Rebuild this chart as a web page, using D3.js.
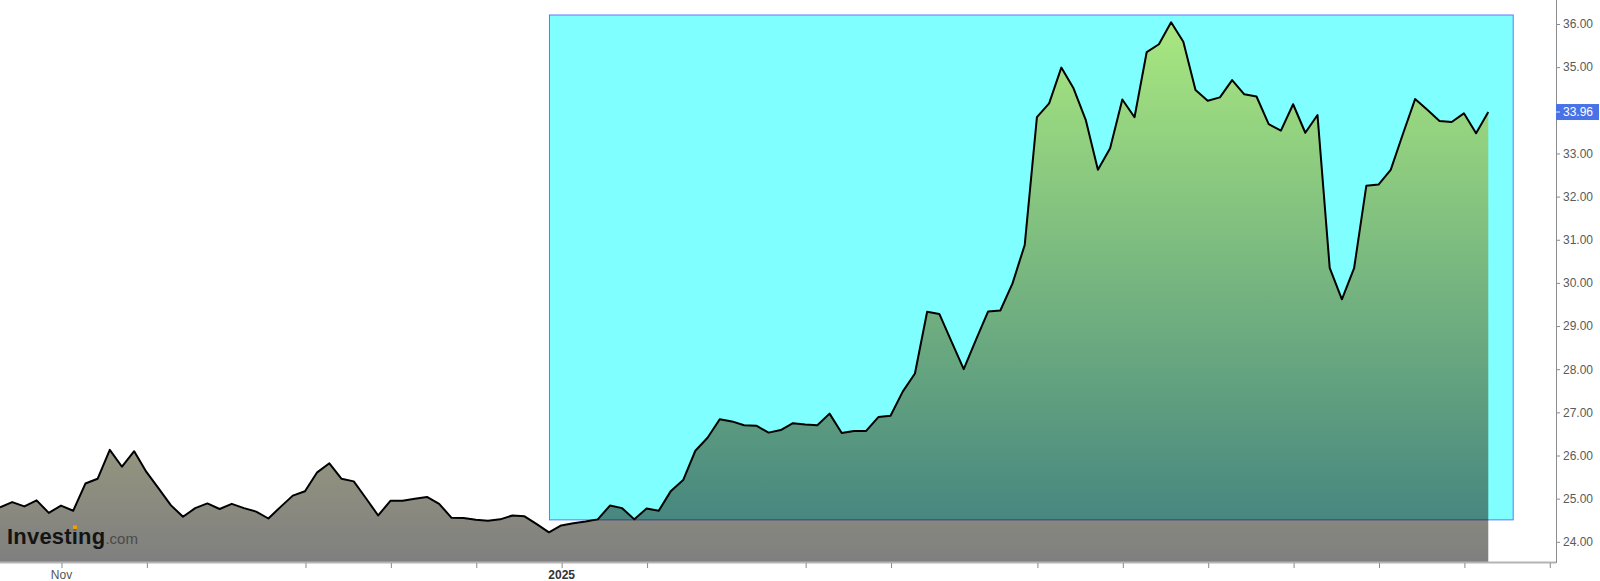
<!DOCTYPE html>
<html>
<head>
<meta charset="utf-8">
<script src="https://cdn.jsdelivr.net/npm/d3@7"></script>
<style>
  html, body { margin: 0; padding: 0; background: #fff; }
  svg { display: block; font-family: "Liberation Sans", Arial, sans-serif; }
</style>
</head>
<body>
<svg id="chart" width="1600" height="581"></svg>
<script>
// ---- data (daily closes, bar index 0..122) ----
const prices = [
  24.80, 24.92, 24.82, 24.96, 24.67, 24.84, 24.72, 25.35, 25.46, 26.13,
  25.74, 26.10, 25.62, 25.24, 24.85, 24.58, 24.78, 24.89, 24.76, 24.88,
  24.78, 24.70, 24.54, 24.81, 25.07, 25.17, 25.61, 25.82, 25.46, 25.40,
  25.01, 24.61, 24.95, 24.95, 25.00, 25.04, 24.88, 24.56, 24.55, 24.51,
  24.49, 24.52, 24.61, 24.59, 24.41, 24.22, 24.38, 24.43, 24.47, 24.52,
  24.84, 24.78, 24.52, 24.77, 24.72, 25.18, 25.43, 26.11, 26.41, 26.84,
  26.79, 26.70, 26.69, 26.53, 26.59, 26.75, 26.72, 26.70, 26.97, 26.52,
  26.57, 26.57, 26.89, 26.92, 27.48, 27.90, 29.33, 29.28, 28.64, 28.00,
  28.68, 29.34, 29.36, 29.99, 30.88, 33.84, 34.16, 34.99, 34.51, 33.78,
  32.62, 33.12, 34.25, 33.84, 35.35, 35.53, 36.04, 35.59, 34.47, 34.22,
  34.30, 34.70, 34.37, 34.32, 33.68, 33.53, 34.14, 33.48, 33.89, 30.35,
  29.62, 30.34, 32.25, 32.28, 32.62, 33.45, 34.26, 34.01, 33.75, 33.73,
  33.93, 33.47, 33.96
];
const lastPrice = 33.96;

// x-axis ticks (bar index) and their labels ("" = label not shown)
const xTickIdx    = [5, 12, 25, 32, 39, 46, 53, 66, 73, 85, 92, 99, 106, 113, 120, 127];
const xTickLabels = ["Nov", "", "", "", "", "2025", "", "", "", "", "", "", "", "", "", ""];

// y-axis ticks
const yTicks = [24, 25, 26, 27, 28, 29, 30, 31, 32, 33, 34, 35, 36];

// highlighted box: from bar / to bar, low / high price
const boxBars   = [45, 124];
const boxPrices = [24.52, 36.22];

// ---- layout ----
const W = 1600, H = 581;
const plotRight = 1556, plotBottom = 562;
const svg = d3.select("#chart");

const x = d3.scaleLinear().domain([0, 127.55]).range([0, plotRight]);
const y = d3.scaleLinear().domain([24, 36]).range([541.8, 24]);

svg.append("rect").attr("width", W).attr("height", H).attr("fill", "#fff");

const defs = svg.append("defs");
const grad = defs.append("linearGradient")
  .attr("id", "areaGrad")
  .attr("gradientUnits", "userSpaceOnUse")
  .attr("x1", 0).attr("x2", 0)
  .attr("y1", y(d3.max(prices))).attr("y2", plotBottom);
grad.append("stop").attr("offset", 0).attr("stop-color", "rgb(210,208,0)");
grad.append("stop").attr("offset", 1).attr("stop-color", "rgb(0,0,0)");

// highlight box (below the area)
svg.append("rect")
  .attr("x", x(boxBars[0]) + 0.5)
  .attr("y", y(boxPrices[1]) + 0.5)
  .attr("width", x(boxBars[1]) - x(boxBars[0]))
  .attr("height", y(boxPrices[0]) - y(boxPrices[1]))
  .attr("fill", "rgba(0,255,255,0.5)")
  .attr("stroke", "#5a78ff")
  .attr("stroke-width", 1);

// area
const area = d3.area()
  .x((d, i) => x(i))
  .y0(plotBottom)
  .y1(d => y(d));
svg.append("path")
  .datum(prices)
  .attr("d", area)
  .attr("fill", "url(#areaGrad)")
  .attr("fill-opacity", 0.5);

// line
const line = d3.line()
  .x((d, i) => x(i))
  .y(d => y(d));
svg.append("path")
  .datum(prices)
  .attr("d", line)
  .attr("fill", "none")
  .attr("stroke", "#000")
  .attr("stroke-width", 2)
  .attr("stroke-linejoin", "round");

// logo
const logo = svg.append("text")
  .attr("x", 7).attr("y", 544);
logo.append("tspan")
  .attr("font-size", 22).attr("font-weight", "bold").attr("fill", "#141414")
  .attr("letter-spacing", 0.2)
  .text("Investing");
logo.append("tspan")
  .attr("font-size", 15).attr("fill", "#4a4a4a")
  .text(".com");
try {
  const ext = logo.node().getExtentOfChar(6);
  svg.append("rect")
    .attr("x", ext.x + ext.width / 2 - 2)
    .attr("y", 525.5)
    .attr("width", 4).attr("height", 4)
    .attr("fill", "#f5a000");
} catch (e) {}

// bottom axis
svg.append("line")
  .attr("x1", 0).attr("x2", plotRight)
  .attr("y1", plotBottom + 0.5).attr("y2", plotBottom + 0.5)
  .attr("stroke", "#b4b4b4").attr("stroke-width", 2);

const xAxis = d3.axisBottom(x)
  .tickValues(xTickIdx)
  .tickSize(5)
  .tickPadding(3)
  .tickFormat((d, i) => xTickLabels[i]);
const gx = svg.append("g")
  .attr("transform", `translate(0,${plotBottom + 1})`)
  .call(xAxis);
gx.select(".domain").remove();
gx.selectAll(".tick line").attr("stroke", "#8a8a8a").attr("transform", "translate(0.5,0)");
gx.selectAll(".tick text")
  .attr("font-size", 12)
  .attr("font-family", "Liberation Sans, Arial, sans-serif")
  .attr("fill", (d, i) => xTickLabels[i] === "2025" ? "#333" : "#555")
  .attr("font-weight", (d, i) => xTickLabels[i] === "2025" ? "bold" : "normal")
  .attr("y", 7);

// right axis
svg.append("line")
  .attr("x1", plotRight + 0.5).attr("x2", plotRight + 0.5)
  .attr("y1", 0).attr("y2", plotBottom + 1)
  .attr("stroke", "#8c8c8c").attr("stroke-width", 1);

const yAxis = d3.axisRight(y)
  .tickValues(yTicks)
  .tickSize(4)
  .tickPadding(3)
  .tickFormat(d3.format(".2f"));
const gy = svg.append("g")
  .attr("transform", `translate(${plotRight},0)`)
  .call(yAxis);
gy.select(".domain").remove();
gy.selectAll(".tick line").attr("stroke", "#8c8c8c");
gy.selectAll(".tick text")
  .attr("font-size", 12)
  .attr("font-family", "Liberation Sans, Arial, sans-serif")
  .attr("fill", "#5a5a5a");

// last price label
const py = y(lastPrice);
svg.append("rect")
  .attr("x", plotRight).attr("y", py - 8)
  .attr("width", W - plotRight - 1).attr("height", 16)
  .attr("fill", "#4a72e8");
svg.append("line")
  .attr("x1", plotRight).attr("x2", plotRight + 4)
  .attr("y1", py).attr("y2", py)
  .attr("stroke", "#dfe7ff");
svg.append("text")
  .attr("x", plotRight + 7).attr("y", py).attr("dy", "0.35em")
  .attr("font-size", 12).attr("fill", "#fff")
  .text(lastPrice.toFixed(2));
</script>
</body>
</html>
